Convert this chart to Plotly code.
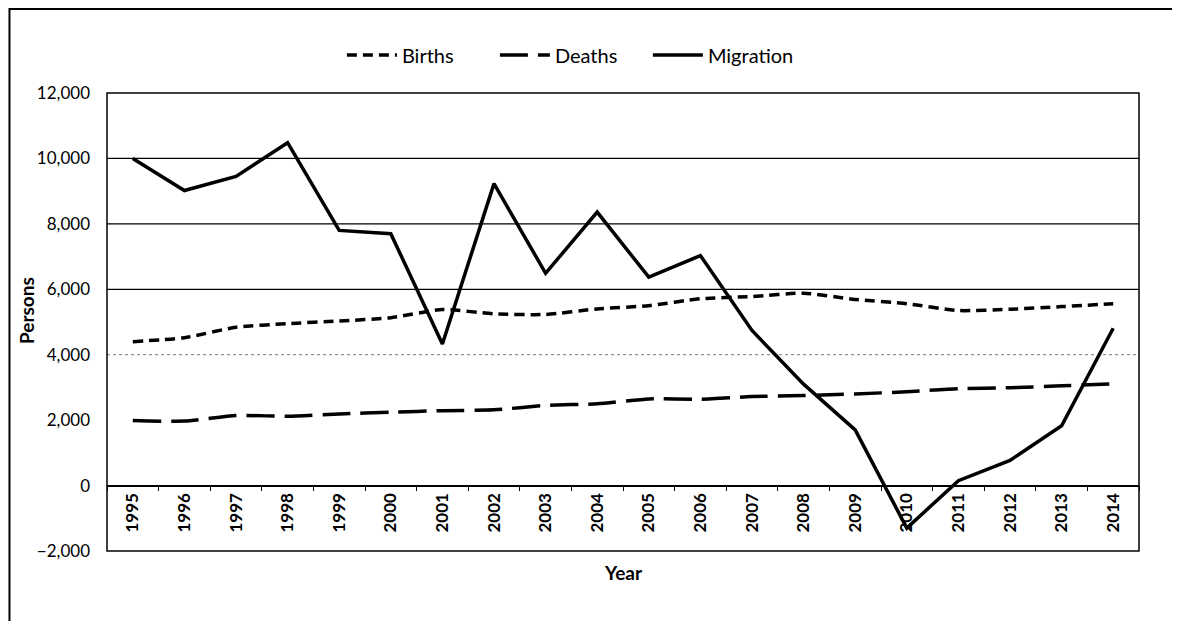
import plotly.graph_objects as go

years = [str(y) for y in range(1995, 2015)]
births = [4400, 4520, 4840, 4950, 5030, 5130, 5380, 5250, 5230, 5400,
          5500, 5710, 5780, 5880, 5690, 5560, 5350, 5390, 5470, 5560]
deaths = [1990, 1970, 2140, 2120, 2190, 2240, 2290, 2315, 2450, 2500,
          2650, 2640, 2720, 2750, 2800, 2870, 2960, 2990, 3050, 3110]
migration = [10000, 9020, 9450, 10480, 7800, 7700, 4330, 9230, 6490, 8360,
             6370, 7030, 4740, 3100, 1700, -1300, 150, 770, 1830, 4810]

y_range = [-2000, 12000]
y_ticks = list(range(-2000, 12001, 2000))
grid_solid = [10000, 8000, 6000]
grid_faint = [4000]

FONT = "Lato"

fig = go.Figure()
fig.add_trace(go.Scatter(x=years, y=births, name="Births", mode="lines",
                         line=dict(color="black", width=3.5, dash="10px,6px",
                                   shape="spline", smoothing=0.6)))
fig.add_trace(go.Scatter(x=years, y=deaths, name="Deaths", mode="lines",
                         line=dict(color="black", width=3.5, dash="28px,10px",
                                   shape="spline", smoothing=0.6)))
fig.add_trace(go.Scatter(x=years, y=migration, name="Migration", mode="lines",
                         line=dict(color="black", width=3.5)))

shapes = []
for g in grid_solid:
    shapes.append(dict(type="line", xref="paper", x0=0, x1=1, yref="y", y0=g, y1=g,
                       line=dict(color="black", width=1.3), layer="below"))
for g in grid_faint:
    shapes.append(dict(type="line", xref="paper", x0=0, x1=1, yref="y", y0=g, y1=g,
                       line=dict(color="#777", width=1, dash="dot"), layer="below"))
# plot-area frame
shapes.append(dict(type="rect", xref="paper", yref="paper", x0=0, x1=1, y0=0, y1=1,
                   line=dict(color="black", width=1.5)))
# outer chart frame (partially cut off at right and bottom)
shapes.append(dict(type="rect", xref="paper", yref="paper", x0=-0.0945, x1=1.2,
                   y0=-0.3, y1=1.1834, line=dict(color="black", width=2)))

zero_pos = (0 - y_range[0]) / (y_range[1] - y_range[0])

fig.update_layout(
    width=1180, height=621,
    margin=dict(l=99, r=49, t=85, b=78),
    paper_bgcolor="white", plot_bgcolor="white",
    font=dict(family=FONT, color="black", size=15),
    showlegend=True,
    legend=dict(orientation="h", x=0.45, xanchor="center", y=1.083, yanchor="middle",
                font=dict(family=FONT, size=20), itemwidth=50,
                entrywidth=88, entrywidthmode="pixels",
                traceorder="normal"),
    shapes=shapes,
    xaxis=dict(type="category", anchor="free", position=zero_pos,
               showline=True, linecolor="black", linewidth=1.5,
               ticks="outside", ticklen=5, tickcolor="black", tickson="boundaries",
               tickangle=-90, showgrid=False, zeroline=False,
               tickfont=dict(family=FONT, size=17, weight="bold"),
               range=[-0.5, len(years) - 0.5]),
    yaxis=dict(range=y_range, tickvals=y_ticks, tickformat=",", showgrid=False,
               zeroline=False, showline=False, ticks="",
               ticklabelstandoff=16,
               tickfont=dict(family=FONT, size=17)),
    annotations=[
        dict(text="<b>Year</b>", xref="paper", yref="paper", x=0.5, y=-0.046,
             xanchor="center", yanchor="middle", showarrow=False,
             font=dict(family=FONT, size=19)),
        dict(text="<b>Persons</b>", xref="paper", yref="paper", x=-0.0785, y=0.526,
             xanchor="center", yanchor="middle", showarrow=False, textangle=-90,
             font=dict(family=FONT, size=19)),
    ],
)

fig.write_html("out.html")
